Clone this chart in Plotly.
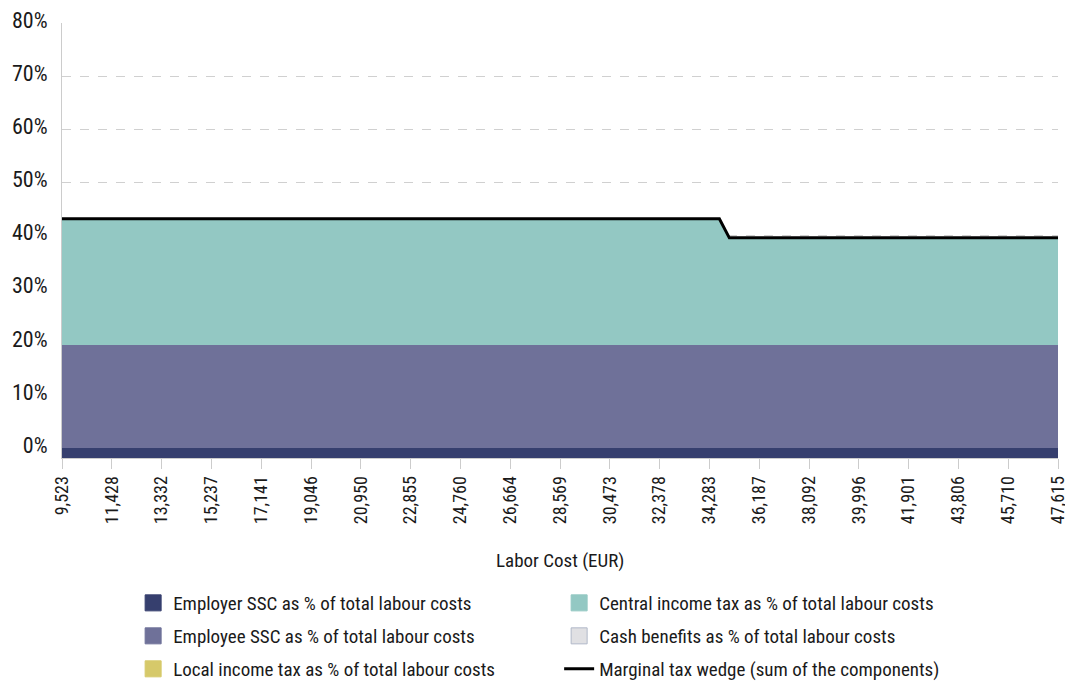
import numpy as np
import plotly.graph_objects as go

# labour cost points (EUR), 50%..250% of the average wage
labour_cost = [9523, 19046, 28569, 34664, 35045, 38092, 47615]

employer_ssc = [0, 0, 0, 0, 0, 0, 0]
employee_ssc = [19.4, 19.4, 19.4, 19.4, 19.4, 19.4, 19.4]
local_tax = [0, 0, 0, 0, 0, 0, 0]
central_tax = [23.8, 23.8, 23.8, 23.8, 20.2, 20.2, 20.2]
cash_benefits = [0, 0, 0, 0, 0, 0, 0]

tick_vals = [9523, 11428, 13332, 15237, 17141, 19046, 20950, 22855, 24760, 26664,
             28569, 30473, 32378, 34283, 36187, 38092, 39996, 41901, 43806, 45710, 47615]
tick_text = [f"{v:,}" for v in tick_vals]

FONT = "Roboto Condensed, DejaVu Sans Condensed, Liberation Sans Narrow, Roboto, sans-serif"
Y_FLOOR = -1.9

colors = {
    "employer": "#363f6e",
    "employee": "#6f7199",
    "local": "#d6c96a",
    "central": "#93c8c3",
    "cash": "#e0e0e3",
}

employer_top = np.array(employer_ssc, dtype=float)
employee_top = employer_top + np.array(employee_ssc)
local_top = employee_top + np.array(local_tax)
central_top = local_top + np.array(central_tax)
cash_top = central_top + np.array(cash_benefits)
wedge = cash_top

fig = go.Figure()

# floor of the axis, the first area fills down to it
fig.add_trace(go.Scatter(x=labour_cost, y=[Y_FLOOR] * len(labour_cost), mode="lines",
                         line=dict(width=0), showlegend=False, hoverinfo="skip"))
for top, key in [(employer_top, "employer"), (employee_top, "employee"),
                 (local_top, "local"), (central_top, "central"), (cash_top, "cash")]:
    fig.add_trace(go.Scatter(x=labour_cost, y=top, mode="lines", line=dict(width=0),
                             fill="tonexty", fillcolor=colors[key], showlegend=False))

fig.add_trace(go.Scatter(x=labour_cost, y=wedge, mode="lines",
                         line=dict(color="black", width=3), showlegend=False))

# legend entries, one legend per row, two columns each
legend_rows = [
    [("Employer SSC as % of total labour costs", "employer"),
     ("Central income tax as % of total labour costs", "central")],
    [("Employee SSC as % of total labour costs", "employee"),
     ("Cash benefits as % of total labour costs", "cash")],
    [("Local income tax as % of total labour costs", "local"),
     ("Marginal tax wedge (sum of the components)", "wedge")],
]
row_y = [0.1198, 0.0710, 0.0222]
legend_names = ["legend", "legend2", "legend3"]

for lg, row in zip(legend_names, legend_rows):
    for name, key in row:
        if key == "wedge":
            fig.add_trace(go.Scatter(x=[None], y=[None], mode="lines", name=name, legend=lg,
                                     line=dict(color="black", width=3)))
        else:
            fig.add_trace(go.Scatter(
                x=[None], y=[None], mode="markers", name=name, legend=lg,
                marker=dict(symbol="square", size=22, color=colors[key],
                            line=dict(color="#b0b8c8" if key == "cash" else colors[key], width=1))))

legend_style = dict(orientation="h", xref="container", yref="container",
                    x=0.1175, xanchor="left", yanchor="middle",
                    entrywidth=381, font=dict(size=19), traceorder="normal")

fig.update_layout(
    width=1065, height=676,
    margin=dict(l=54, r=15, t=15, b=226),
    plot_bgcolor="white", paper_bgcolor="white",
    font=dict(family=FONT, size=18, color="#1a1a1a"),
    legend=dict(legend_style, y=row_y[0]),
    legend2=dict(legend_style, y=row_y[1]),
    legend3=dict(legend_style, y=row_y[2]),
    annotations=[dict(text="Labor Cost (EUR)", xref="paper", yref="paper",
                      x=0.5, y=-0.2345, xanchor="center", yanchor="middle",
                      showarrow=False, font=dict(size=19))],
)
fig.update_xaxes(
    range=[labour_cost[0], labour_cost[-1]], tickvals=tick_vals, ticktext=tick_text,
    tickangle=-90, tickfont=dict(size=18), ticks="outside", ticklen=10, tickcolor="#cccccc",
    showline=True, linecolor="#cccccc", showgrid=False, zeroline=False, automargin=False,
)
fig.update_yaxes(
    range=[Y_FLOOR, 80.1], tickvals=[0, 10, 20, 30, 40, 50, 60, 70, 80],
    ticktext=[f"{v}%" for v in range(0, 90, 10)], tickfont=dict(size=22),
    showgrid=True, gridcolor="#d0d0d0", griddash="dash", zeroline=False, automargin=False,
    showline=True, linecolor="#cccccc", ticklabelstandoff=9, ticklabelshift=-3,
)

fig.write_html("out.html")
